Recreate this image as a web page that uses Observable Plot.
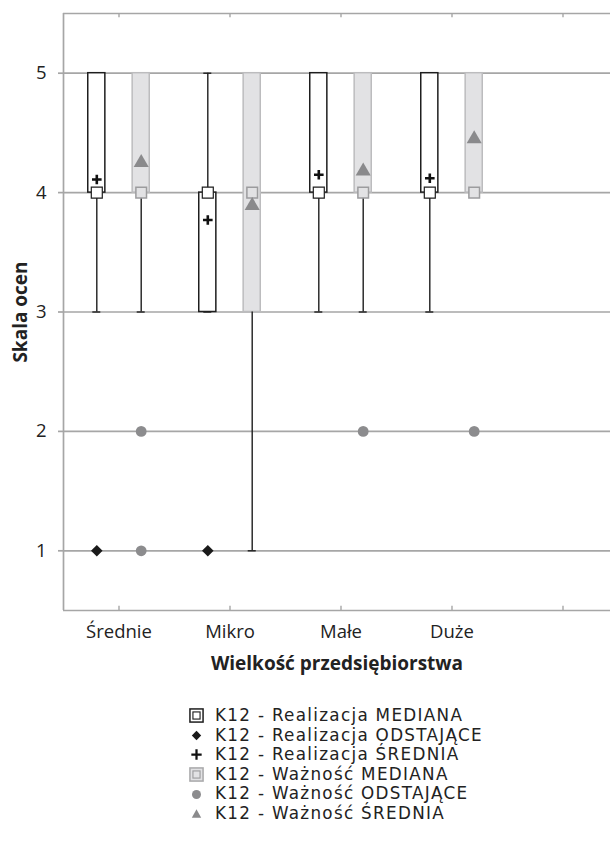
<!DOCTYPE html>
<html><head><meta charset="utf-8">
<script src="https://cdn.jsdelivr.net/npm/d3@7"></script>
<script src="https://cdn.jsdelivr.net/npm/@observablehq/plot@0.6"></script>
<style>
body{margin:0;background:#fff;font-family:"Open Sans",sans-serif;color:#222;}
#legend{margin-left:189px;margin-top:16px;font-family:"DejaVu Sans",sans-serif;font-size:16.8px;letter-spacing:1.3px;}
#legend .item{display:flex;align-items:center;height:19.6px;white-space:nowrap;}
#legend .item span{display:block;line-height:19.6px;height:19.6px;}
#legend svg{width:15px;height:15px;margin-right:11px;flex:none;}
</style></head><body>
<div id="chart"></div>
<div id="legend"></div>
<script>
const categories = ["Średnie", "Mikro", "Małe", "Duże"];
const yTicks = [1, 2, 3, 4, 5];
// K12 - Realizacja
const realQ1 = [4, 3, 4, 4];
const realQ3 = [5, 4, 5, 5];
const realMedian = [4, 4, 4, 4];
const realLow = [3, 3, 3, 3];
const realHigh = [5, 5, 5, 5];
const realMean = [4.11, 3.77, 4.15, 4.12];
const realOutliers = [[1], [1], [], []];
// K12 - Ważność
const wazQ1 = [4, 3, 4, 4];
const wazQ3 = [5, 5, 5, 5];
const wazMedian = [4, 4, 4, 4];
const wazLow = [3, 1, 3, 4];
const wazHigh = [5, 5, 5, 5];
const wazMean = [4.25, 3.89, 4.18, 4.45];
const wazOutliers = [[2, 1], [], [2], [2]];

const OFF = 0.2, HW = 0.077, CAP = 0.036;
function build(q1, q3, med, low, high, mean, outl, side) {
  return categories.map((c, i) => ({
    i, x: i + side * OFF, q1: q1[i], q3: q3[i], med: med[i], low: low[i], high: high[i], mean: mean[i], outl: outl[i]
  }));
}
const real = build(realQ1, realQ3, realMedian, realLow, realHigh, realMean, realOutliers, -1);
const waz = build(wazQ1, wazQ3, wazMedian, wazLow, wazHigh, wazMean, wazOutliers, 1);
const realOut = real.flatMap(d => d.outl.map(v => ({x: d.x, v})));
const wazOut = waz.flatMap(d => d.outl.map(v => ({x: d.x, v})));
const all = real.concat(waz);

const GRID = "#a6a6a6", INK = "#1e1e1e", WFILL = "#e2e2e4", WSTROKE = "#bcbcbe";

const chart = Plot.plot({
  width: 610, height: 690,
  marginTop: 13, marginBottom: 80, marginLeft: 63, marginRight: 0,
  style: {fontFamily: "'Open Sans', sans-serif", fontSize: "18px", color: "#222", background: "#fff"},
  x: {type: "linear", domain: [-0.5, 4.5], range: [63, 618], axis: null},
  y: {domain: [0.5, 5.5], axis: null},
  marks: [
    Plot.ruleY(yTicks, {x1: -0.5, x2: 4.5, stroke: GRID, strokeWidth: 1.7}),
    Plot.axisY({ticks: yTicks, tickFormat: "d", tickSize: 5, tickPadding: 12, stroke: GRID, fill: "#222", fontSize: 18.5, label: null, strokeWidth: 1.7}),
    Plot.ruleX([-0.5], {stroke: GRID, strokeWidth: 1.7}),
    Plot.ruleY([0.5, 5.5], {stroke: GRID, strokeWidth: 1.7}),
    Plot.ruleX([0, 1, 2, 3, 4], {x: d => d, y1: 0.5, y2: 0.535, stroke: GRID, strokeWidth: 1.4}),
    Plot.ruleX([0, 1, 2, 3, 4], {x: d => d, y1: 5.5, y2: 5.465, stroke: GRID, strokeWidth: 1.4}),
    Plot.axisX({ticks: [0, 1, 2, 3], tickFormat: i => categories[i], tickSize: 0, tickPadding: 14, fontSize: 18.5, fill: "#222", label: null}),
    // boxes Ważność
    Plot.rect(waz, {x1: d => d.x - HW, x2: d => d.x + HW, y1: "q1", y2: "q3", fill: WFILL, stroke: WSTROKE, strokeWidth: 1.5}),
    // whiskers
    Plot.ruleX(all.filter(d => d.low < d.q1), {x: "x", y1: "low", y2: "q1", stroke: INK, strokeWidth: 1.4}),
    Plot.ruleX(all.filter(d => d.high > d.q3), {x: "x", y1: "q3", y2: "high", stroke: INK, strokeWidth: 1.4}),
    Plot.ruleY(all, {y: "low", x1: d => d.x - CAP, x2: d => d.x + CAP, stroke: INK, strokeWidth: 1.4}),
    Plot.ruleY(all.filter(d => d.high > d.q3), {y: "high", x1: d => d.x - CAP, x2: d => d.x + CAP, stroke: INK, strokeWidth: 1.4}),
    // boxes Realizacja
    Plot.rect(real, {x1: d => d.x - HW, x2: d => d.x + HW, y1: "q1", y2: "q3", fill: "#fff", stroke: INK, strokeWidth: 1.5}),
    // medians
    Plot.dot(real, {x: "x", y: "med", symbol: "square", r: 6.2, fill: "#fff", stroke: INK, strokeWidth: 1.2}),
    Plot.dot(waz, {x: "x", y: "med", symbol: "square", r: 6.0, fill: WFILL, stroke: "#9c9c9e", strokeWidth: 1.5}),
    // means
    Plot.dot(real, {x: "x", y: "mean", symbol: "plus", r: 3.2, fill: "none", stroke: "#111", strokeWidth: 2.6}),
    Plot.dot(waz, {x: "x", y: "mean", symbol: "triangle", r: 5.6, fill: "#8a8a8c", stroke: "none"}),
    // outliers
    Plot.dot(realOut, {x: "x", y: "v", symbol: "diamond2", r: 5.2, fill: "#1a1a1a", stroke: "none"}),
    Plot.dot(wazOut, {x: "x", y: "v", symbol: "circle", r: 5.4, fill: "#8c8c8e", stroke: "none"}),
    // titles
    Plot.text(["Wielkość przedsiębiorstwa"], {frameAnchor: "bottom", dy: 59, fontWeight: "bold", fontSize: 19, fill: "#222"}),
    Plot.text(["Skala ocen"], {frameAnchor: "left", rotate: -90, dx: -43, textAnchor: "middle", fontWeight: "bold", fontSize: 19, fill: "#222"})
  ]
});
document.getElementById("chart").appendChild(chart);

// legend
const legendItems = [
  {label: "K12 - Realizacja MEDIANA", icon: '<rect x="1" y="1" width="14" height="14" fill="#fff" stroke="#1e1e1e" stroke-width="1.6"/><rect x="4.2" y="4.2" width="7.6" height="7.6" fill="#fff" stroke="#1e1e1e" stroke-width="1.2"/>'},
  {label: "K12 - Realizacja ODSTAJĄCE", icon: '<path d="M8 3 L13 8 L8 13 L3 8 Z" fill="#1a1a1a"/>'},
  {label: "K12 - Realizacja ŚREDNIA", icon: '<path d="M2.5 6.8 H13.5 V9.2 H2.5 Z M6.8 2.5 H9.2 V13.5 H6.8 Z" fill="#111"/>'},
  {label: "K12 - Ważność MEDIANA", icon: '<rect x="1" y="1" width="14" height="14" fill="#e2e2e4" stroke="#a8a8aa" stroke-width="1.6"/><rect x="4.2" y="4.2" width="7.6" height="7.6" fill="#e2e2e4" stroke="#9c9c9e" stroke-width="1.2"/>'},
  {label: "K12 - Ważność ODSTAJĄCE", icon: '<circle cx="8" cy="8" r="4.8" fill="#8c8c8e"/>'},
  {label: "K12 - Ważność ŚREDNIA", icon: '<path d="M8 3.5 L13 12.5 H3 Z" fill="#8a8a8c"/>'}
];
const legend = document.getElementById("legend");
for (const it of legendItems) {
  const div = document.createElement("div");
  div.className = "item";
  div.innerHTML = `<svg viewBox="0 0 16 16">${it.icon}</svg><span>${it.label}</span>`;
  legend.appendChild(div);
}
</script>
</body></html>
